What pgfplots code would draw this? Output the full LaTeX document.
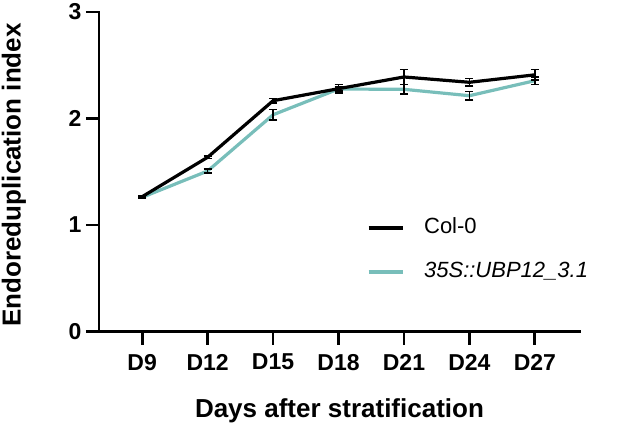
\documentclass[border=0pt]{standalone}
\usepackage{fontspec}
\setmainfont{Liberation Sans}
\usepackage{pgfplots}
\pgfplotsset{compat=1.18}
\definecolor{tealc}{RGB}{120,190,186}
\begin{document}
\begin{tikzpicture}
\useasboundingbox (0pt,0pt) rectangle (617pt,429pt);
\begin{axis}[
  at={(99pt,97.5pt)}, anchor=south west,
  scale only axis, width=481pt, height=319.5pt,
  xmin=-0.66, xmax=6.69, ymin=0, ymax=3,
  axis lines=left,
  axis line style={-, line width=2.8pt, line cap=rect},
  xtick={0,1,2,3,4,5,6},
  xticklabels={D9,D12,D15,D18,D21,D24,D27},
  ytick={0,1,2,3},
  yticklabels={0,1,2,3},
  tick align=outside,
  major tick length=13pt,
  tick style={line width=2.8pt, black},
  ticklabel style={font=\bfseries\fontsize{23}{27}\selectfont},
  xticklabel style={yshift=-6pt},
  yticklabel style={xshift=-1pt},
  xlabel={Days after stratification},
  ylabel={Endoreduplication index},
  label style={font=\bfseries\fontsize{26}{30}\selectfont},
  xlabel style={at={(axis description cs:0.5,-0.2707)}, anchor=base},
  ylabel style={at={(axis description cs:-0.1632,0.49)}, anchor=base},
  clip=false,
  legend style={draw=none, fill=none, inner sep=0pt, outer sep=0pt,
    at={(axis description cs:0.557,0.255)}, anchor=west,
    font=\fontsize{22}{26}\selectfont,
    nodes={inner sep=0pt, text height=16pt, text depth=5pt},
    /tikz/column sep=20pt, /tikz/row sep=23pt},
  legend cell align=left,
  legend image code/.code={\draw[#1] (0pt,0pt) -- (34pt,0pt);},
]
\addlegendimage{black, line width=3.2pt}
\addlegendimage{tealc, line width=3.2pt}
\addplot[forget plot, tealc, line width=3.2pt, mark=none,
  error bars/.cd, y dir=both, y explicit,
  error bar style={black, line width=1.4pt},
  error mark options={black, rotate=90, line width=1.4pt, mark size=4pt}]
  table[x=x, y=y, y error=e] {
x y e
0 1.260 0.010
1 1.507 0.020
2 2.035 0.050
3 2.277 0.020
4 2.274 0.045
5 2.214 0.040
6 2.355 0.035
};
\addplot[forget plot, black, line width=3.2pt, mark=none,
  error bars/.cd, y dir=both, y explicit,
  error bar style={black, line width=1.4pt},
  error mark options={black, rotate=90, line width=1.4pt, mark size=4pt}]
  table[x=x, y=y, y error=e] {
x y e
0 1.266 0.012
1 1.636 0.012
2 2.167 0.020
3 2.280 0.040
4 2.390 0.070
5 2.340 0.035
6 2.410 0.050
};
\legend{Col-0, \textit{35S::UBP12\_3.1}}
\end{axis}
\end{tikzpicture}
\end{document}
